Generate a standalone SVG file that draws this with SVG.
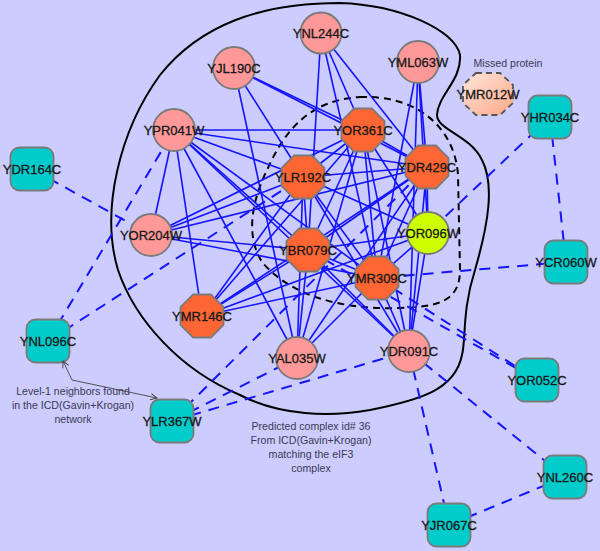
<svg xmlns="http://www.w3.org/2000/svg" xmlns:xlink="http://www.w3.org/1999/xlink" width="600" height="551" viewBox="0 0 600 551">
<style>
.e{stroke:#1414ff;stroke-width:1.6;fill:none}
.d{stroke:#1414ff;stroke-width:2;fill:none;stroke-dasharray:11 8}
.circ{fill:#ff9999;stroke:#7a7a7a;stroke-width:1.8}
.oct{fill:#ff6633;stroke:#7a7a7a;stroke-width:1.8}
.ycirc{fill:#ccff00;stroke:#7a7a7a;stroke-width:1.8}
.sq{fill:#00cccc;stroke:#7a7a7a;stroke-width:1.8}
.lbl{font-family:"Liberation Sans",Arial,sans-serif;font-size:13px;fill:#111;stroke:#222;stroke-width:0.3;text-anchor:middle}
.note{font-family:"Liberation Sans",Arial,sans-serif;font-size:10.6px;fill:#3a3a55;text-anchor:middle}
.hull{fill:none;stroke:#000;stroke-width:2}
.hulld{fill:none;stroke:#000;stroke-width:2;stroke-dasharray:7 5}
</style>
<defs>
<polygon id="oct" points="-8.9,-21.5 8.9,-21.5 21.5,-8.9 21.5,8.9 8.9,21.5 -8.9,21.5 -21.5,8.9 -21.5,-8.9"/>
<linearGradient id="peach" x1="0" y1="0" x2="1" y2="1">
<stop offset="0" stop-color="#ffe6dc"/>
<stop offset="1" stop-color="#ffa888"/>
</linearGradient>
<marker id="arr" viewBox="0 0 10 10" refX="9" refY="5" markerWidth="8" markerHeight="8" orient="auto-start-reverse" markerUnits="userSpaceOnUse">
<path d="M1,1 L9,5 L1,9" fill="none" stroke="#444" stroke-width="1.2"/>
</marker>
</defs>
<rect x="0" y="0" width="600" height="551" fill="#ccccff"/>

<g id="complex-outlines">
<path class="hull" d="M340 3 C400 5 455 30 460 55 C462 80 438 95 437 115 C437 130 470 135 482 160 C495 185 488 225 475 270 C462 310 466 340 462 355 C455 390 420 400 370 410 C330 417 280 416 240 395 C180 370 135 320 118 270 C100 210 120 130 160 75 C200 25 260 3 340 3 Z"/>
<path class="hulld" d="M360 97 C420 95 455 130 458 175 L460 270 C460 300 440 307 400 308 C340 310 290 295 262 262 C245 235 252 200 268 168 C285 130 310 100 360 97 Z"/>
</g>

<g id="connectors">
<line class="e" x1="174" y1="130" x2="363" y2="130"/>
<line class="e" x1="174" y1="130" x2="303" y2="177"/>
<line class="e" x1="174" y1="130" x2="427" y2="167"/>
<line class="e" x1="174" y1="130" x2="308" y2="250"/>
<line class="e" x1="174" y1="130" x2="377" y2="278"/>
<line class="e" x1="174" y1="130" x2="409" y2="351"/>
<line class="e" x1="174" y1="130" x2="151" y2="235"/>
<line class="e" x1="174" y1="130" x2="202" y2="316"/>
<line class="e" x1="174" y1="130" x2="297" y2="358"/>
<line class="e" x1="234" y1="68" x2="363" y2="130"/>
<line class="e" x1="234" y1="68" x2="427" y2="167"/>
<line class="e" x1="234" y1="68" x2="303" y2="177"/>
<line class="e" x1="234" y1="68" x2="297" y2="358"/>
<line class="e" x1="321" y1="33" x2="308" y2="250"/>
<line class="e" x1="321" y1="33" x2="363" y2="130"/>
<line class="e" x1="321" y1="33" x2="427" y2="167"/>
<line class="e" x1="321" y1="33" x2="377" y2="278"/>
<line class="e" x1="418" y1="62" x2="427" y2="167"/>
<line class="e" x1="418" y1="62" x2="428" y2="233"/>
<line class="e" x1="418" y1="62" x2="409" y2="351"/>
<line class="e" x1="418" y1="62" x2="377" y2="278"/>
<line class="e" x1="363" y1="130" x2="303" y2="177"/>
<line class="e" x1="363" y1="130" x2="427" y2="167"/>
<line class="e" x1="363" y1="130" x2="308" y2="250"/>
<line class="e" x1="363" y1="130" x2="377" y2="278"/>
<line class="e" x1="363" y1="130" x2="151" y2="235"/>
<line class="e" x1="363" y1="130" x2="202" y2="316"/>
<line class="e" x1="363" y1="130" x2="297" y2="358"/>
<line class="e" x1="363" y1="130" x2="409" y2="351"/>
<line class="e" x1="363" y1="130" x2="428" y2="233"/>
<line class="e" x1="303" y1="177" x2="427" y2="167"/>
<line class="e" x1="303" y1="177" x2="308" y2="250"/>
<line class="e" x1="303" y1="177" x2="377" y2="278"/>
<line class="e" x1="303" y1="177" x2="409" y2="351"/>
<line class="e" x1="303" y1="177" x2="151" y2="235"/>
<line class="e" x1="303" y1="177" x2="202" y2="316"/>
<line class="e" x1="303" y1="177" x2="297" y2="358"/>
<line class="e" x1="303" y1="177" x2="428" y2="233"/>
<line class="e" x1="427" y1="167" x2="308" y2="250"/>
<line class="e" x1="427" y1="167" x2="377" y2="278"/>
<line class="e" x1="427" y1="167" x2="428" y2="233"/>
<line class="e" x1="427" y1="167" x2="409" y2="351"/>
<line class="e" x1="427" y1="167" x2="202" y2="316"/>
<line class="e" x1="427" y1="167" x2="297" y2="358"/>
<line class="e" x1="427" y1="167" x2="151" y2="235"/>
<line class="e" x1="308" y1="250" x2="377" y2="278"/>
<line class="e" x1="308" y1="250" x2="428" y2="233"/>
<line class="e" x1="308" y1="250" x2="202" y2="316"/>
<line class="e" x1="308" y1="250" x2="409" y2="351"/>
<line class="e" x1="308" y1="250" x2="297" y2="358"/>
<line class="e" x1="308" y1="250" x2="151" y2="235"/>
<line class="e" x1="377" y1="278" x2="428" y2="233"/>
<line class="e" x1="377" y1="278" x2="409" y2="351"/>
<line class="e" x1="377" y1="278" x2="202" y2="316"/>
<line class="e" x1="377" y1="278" x2="297" y2="358"/>
<line class="e" x1="428" y1="233" x2="409" y2="351"/>
<line class="e" x1="151" y1="235" x2="377" y2="278"/>
<line class="e" x1="202" y1="316" x2="428" y2="233"/>

<line class="d" x1="32" y1="169" x2="151" y2="235"/>
<line class="d" x1="48" y1="341" x2="174" y2="130"/>
<line class="d" x1="48" y1="341" x2="303" y2="177"/>
<line class="d" x1="172" y1="421" x2="427" y2="167"/>
<line class="d" x1="172" y1="421" x2="297" y2="358"/>
<line class="d" x1="172" y1="421" x2="409" y2="351"/>
<line class="d" x1="550" y1="117" x2="428" y2="233"/>
<line class="d" x1="550" y1="117" x2="566" y2="262"/>
<line class="d" x1="566" y1="262" x2="377" y2="278"/>
<line class="d" x1="377" y1="278" x2="537" y2="380"/>
<line class="d" x1="308" y1="250" x2="537" y2="380"/>
<line class="d" x1="409" y1="351" x2="449" y2="525"/>
<line class="d" x1="409" y1="351" x2="565" y2="477"/>
<line class="d" x1="449" y1="525" x2="565" y2="477"/>
</g>

<g id="YNL244C"><circle class="circ" cx="321" cy="33" r="20.5"/><text class="lbl" x="321" y="38">YNL244C</text></g>
<g id="YJL190C"><circle class="circ" cx="234" cy="68" r="21"/><text class="lbl" x="234" y="73">YJL190C</text></g>
<g id="YML063W"><circle class="circ" cx="418" cy="62" r="21"/><text class="lbl" x="418" y="67">YML063W</text></g>
<g id="YPR041W"><circle class="circ" cx="174" cy="130" r="21"/><text class="lbl" x="174" y="135">YPR041W</text></g>
<g id="YOR204W"><circle class="circ" cx="151" cy="235" r="21"/><text class="lbl" x="151" y="240">YOR204W</text></g>
<g id="YAL035W"><circle class="circ" cx="297" cy="358" r="21"/><text class="lbl" x="297" y="363">YAL035W</text></g>
<g id="YDR091C"><circle class="circ" cx="409" cy="351" r="21"/><text class="lbl" x="409" y="356">YDR091C</text></g>
<g id="YOR096W"><circle class="ycirc" cx="428" cy="233" r="21"/><text class="lbl" x="428" y="238">YOR096W</text></g>

<g id="YOR361C"><use href="#oct" class="oct" x="363" y="130"/><text class="lbl" x="363" y="135">YOR361C</text></g>
<g id="YLR192C"><use href="#oct" class="oct" x="303" y="177"/><text class="lbl" x="303" y="182">YLR192C</text></g>
<g id="YDR429C"><use href="#oct" class="oct" x="427" y="167"/><text class="lbl" x="427" y="172">YDR429C</text></g>
<g id="YBR079C"><use href="#oct" class="oct" x="308" y="250"/><text class="lbl" x="308" y="255">YBR079C</text></g>
<g id="YMR309C"><use href="#oct" class="oct" x="377" y="278"/><text class="lbl" x="377" y="283">YMR309C</text></g>
<g id="YMR146C"><use href="#oct" class="oct" x="202" y="316"/><text class="lbl" x="202" y="321">YMR146C</text></g>

<g id="YMR012W">
<polygon points="476,73 500,73 513,85 513,103 500,115 476,115 463,103 463,85" fill="url(#peach)" stroke="#555" stroke-width="1.8" stroke-dasharray="6 4"/>
<text class="lbl" x="488" y="99">YMR012W</text>
<text class="note" x="508" y="67" fill="#3a3a55">Missed protein</text>
</g>

<g id="YHR034C"><rect class="sq" x="528.5" y="95.5" width="43" height="43" rx="9"/><text class="lbl" x="550" y="122">YHR034C</text></g>
<g id="YDR164C"><rect class="sq" x="10.5" y="147.5" width="43" height="43" rx="9"/><text class="lbl" x="32" y="174">YDR164C</text></g>
<g id="YCR060W"><rect class="sq" x="544.5" y="240.5" width="43" height="43" rx="9"/><text class="lbl" x="566" y="267">YCR060W</text></g>
<g id="YNL096C"><rect class="sq" x="26.5" y="319.5" width="43" height="43" rx="9"/><text class="lbl" x="48" y="346">YNL096C</text></g>
<g id="YOR052C"><rect class="sq" x="515.5" y="358.5" width="43" height="43" rx="9"/><text class="lbl" x="537" y="385">YOR052C</text></g>
<g id="YLR367W"><rect class="sq" x="150.5" y="399.5" width="43" height="43" rx="9"/><text class="lbl" x="172" y="426">YLR367W</text></g>
<g id="YNL260C"><rect class="sq" x="543.5" y="455.5" width="43" height="43" rx="9"/><text class="lbl" x="565" y="482">YNL260C</text></g>
<g id="YJR067C"><rect class="sq" x="427.5" y="503.5" width="43" height="43" rx="9"/><text class="lbl" x="449" y="530">YJR067C</text></g>

<g id="annotations">
<polyline points="63,361 72,380 157,398" fill="none" stroke="#444" stroke-width="0.9" marker-start="url(#arr)" marker-end="url(#arr)"/>
<text class="note" x="73" y="395">Level-1 neighbors found</text>
<text class="note" x="73" y="409">in the ICD(Gavin+Krogan)</text>
<text class="note" x="73" y="423">network</text>
<text class="note" x="311" y="430">Predicted complex id# 36</text>
<text class="note" x="311" y="444">From ICD(Gavin+Krogan)</text>
<text class="note" x="311" y="458">matching the eIF3</text>
<text class="note" x="311" y="472">complex</text>
</g>
</svg>
